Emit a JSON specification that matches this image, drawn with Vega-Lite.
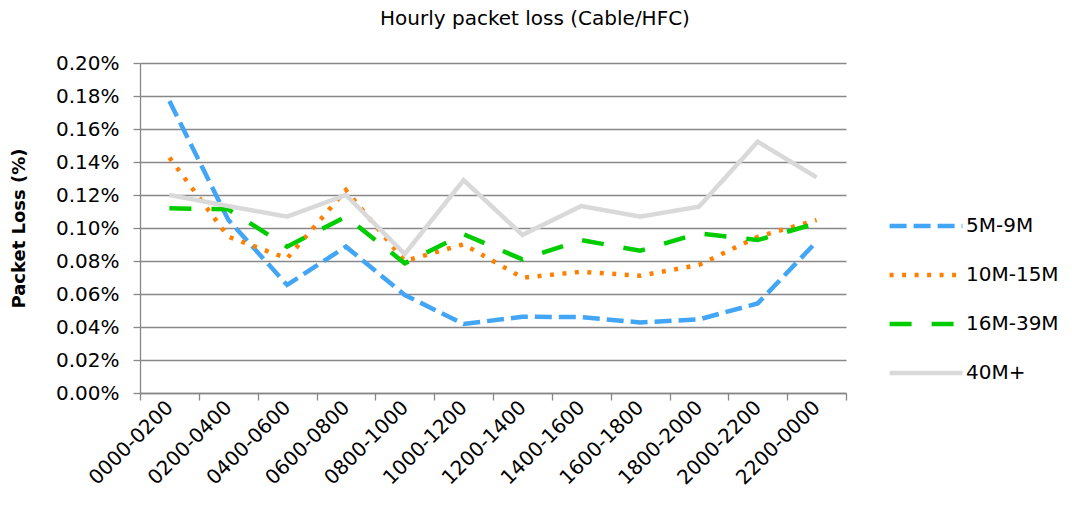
{
  "$schema": "https://vega.github.io/schema/vega-lite/v6.json",
  "width": 706,
  "height": 330,
  "autosize": {"type": "none"},
  "padding": {"left": 140, "top": 63, "right": 226, "bottom": 118},
  "background": "white",
  "config": {"font": "DejaVu Sans", "view": {"stroke": null}},
  "title": {"text": "Hourly packet loss (Cable/HFC)", "fontSize": 20, "fontWeight": "normal", "color": "#000000", "dx": 42, "offset": 24, "anchor": "middle"},
  "data": {"values": [
    {"hour": "0000-0200", "band": "5M-9M", "loss": 0.00177},
    {"hour": "0200-0400", "band": "5M-9M", "loss": 0.00105},
    {"hour": "0400-0600", "band": "5M-9M", "loss": 0.000655},
    {"hour": "0600-0800", "band": "5M-9M", "loss": 0.000887},
    {"hour": "0800-1000", "band": "5M-9M", "loss": 0.000594},
    {"hour": "1000-1200", "band": "5M-9M", "loss": 0.000418},
    {"hour": "1200-1400", "band": "5M-9M", "loss": 0.000462},
    {"hour": "1400-1600", "band": "5M-9M", "loss": 0.00046},
    {"hour": "1600-1800", "band": "5M-9M", "loss": 0.000428},
    {"hour": "1800-2000", "band": "5M-9M", "loss": 0.000446},
    {"hour": "2000-2200", "band": "5M-9M", "loss": 0.000543},
    {"hour": "2200-0000", "band": "5M-9M", "loss": 0.000917},
    {"hour": "0000-0200", "band": "10M-15M", "loss": 0.001426},
    {"hour": "0200-0400", "band": "10M-15M", "loss": 0.000947},
    {"hour": "0400-0600", "band": "10M-15M", "loss": 0.000816},
    {"hour": "0600-0800", "band": "10M-15M", "loss": 0.00123},
    {"hour": "0800-1000", "band": "10M-15M", "loss": 0.0008},
    {"hour": "1000-1200", "band": "10M-15M", "loss": 0.000901},
    {"hour": "1200-1400", "band": "10M-15M", "loss": 0.000699},
    {"hour": "1400-1600", "band": "10M-15M", "loss": 0.000735},
    {"hour": "1600-1800", "band": "10M-15M", "loss": 0.000711},
    {"hour": "1800-2000", "band": "10M-15M", "loss": 0.000776},
    {"hour": "2000-2200", "band": "10M-15M", "loss": 0.000947},
    {"hour": "2200-0000", "band": "10M-15M", "loss": 0.001048},
    {"hour": "0000-0200", "band": "16M-39M", "loss": 0.001119},
    {"hour": "0200-0400", "band": "16M-39M", "loss": 0.001113},
    {"hour": "0400-0600", "band": "16M-39M", "loss": 0.000887},
    {"hour": "0600-0800", "band": "16M-39M", "loss": 0.001069},
    {"hour": "0800-1000", "band": "16M-39M", "loss": 0.000786},
    {"hour": "1000-1200", "band": "16M-39M", "loss": 0.000962},
    {"hour": "1200-1400", "band": "16M-39M", "loss": 0.00081},
    {"hour": "1400-1600", "band": "16M-39M", "loss": 0.000927},
    {"hour": "1600-1800", "band": "16M-39M", "loss": 0.000862},
    {"hour": "1800-2000", "band": "16M-39M", "loss": 0.000968},
    {"hour": "2000-2200", "band": "16M-39M", "loss": 0.000927},
    {"hour": "2200-0000", "band": "16M-39M", "loss": 0.001028},
    {"hour": "0000-0200", "band": "40M+", "loss": 0.0012},
    {"hour": "0200-0400", "band": "40M+", "loss": 0.001133},
    {"hour": "0400-0600", "band": "40M+", "loss": 0.001069},
    {"hour": "0600-0800", "band": "40M+", "loss": 0.0012},
    {"hour": "0800-1000", "band": "40M+", "loss": 0.000842},
    {"hour": "1000-1200", "band": "40M+", "loss": 0.00129},
    {"hour": "1200-1400", "band": "40M+", "loss": 0.000958},
    {"hour": "1400-1600", "band": "40M+", "loss": 0.001133},
    {"hour": "1600-1800", "band": "40M+", "loss": 0.001069},
    {"hour": "1800-2000", "band": "40M+", "loss": 0.001129},
    {"hour": "2000-2200", "band": "40M+", "loss": 0.001523},
    {"hour": "2200-0000", "band": "40M+", "loss": 0.001307}
  ]},
  "mark": {"type": "line", "strokeWidth": 4.5},
  "encoding": {
    "x": {
      "field": "hour", "type": "ordinal", "sort": null, "bandPosition": 0.5,
      "scale": {"type": "band", "paddingInner": 0, "paddingOuter": 0},
      "axis": {"title": null, "labelAngle": -45, "labelAlign": "right", "labelBaseline": "middle", "labelFontSize": 20, "labelColor": "#000000", "tickBand": "extent", "domainColor": "#888888", "domainWidth": 1.3, "tickColor": "#888888", "tickWidth": 1.3, "tickSize": 7, "grid": false, "labelPadding": 4}
    },
    "y": {
      "field": "loss", "type": "quantitative",
      "scale": {"domain": [0, 0.002], "nice": false},
      "axis": {"title": "Packet Loss (%)", "titleFontSize": 18, "titleFontWeight": "bold", "titleColor": "#000000", "titlePadding": 27, "format": ".2%",
        "values": [0, 0.0002, 0.0004, 0.0006, 0.0008, 0.001, 0.0012, 0.0014, 0.0016, 0.0018, 0.002],
        "grid": true, "gridColor": "#888888", "gridWidth": 1.3, "domainColor": "#888888", "domainWidth": 1.3, "tickColor": "#888888", "tickWidth": 1.3, "tickSize": 7, "labelFontSize": 20, "labelColor": "#000000", "labelPadding": 14}
    },
    "color": {
      "field": "band", "type": "nominal",
      "scale": {"domain": ["5M-9M", "10M-15M", "16M-39M", "40M+"], "range": ["#42A5F5", "#FF8000", "#00CC00", "#D9D9D9"]},
      "legend": {"title": null, "orient": "none", "legendX": 747, "legendY": 124, "symbolType": "stroke", "symbolSize": 5300, "symbolStrokeWidth": 4.5, "rowPadding": -31, "labelFontSize": 20, "labelColor": "#000000", "labelOffset": 1, "padding": 0}
    },
    "strokeDash": {
      "field": "band", "type": "nominal",
      "scale": {"domain": ["5M-9M", "10M-15M", "16M-39M", "40M+"], "range": [[17, 7], [4, 8.5], [22, 20], [1, 0]]},
      "legend": null
    }
  }
}
